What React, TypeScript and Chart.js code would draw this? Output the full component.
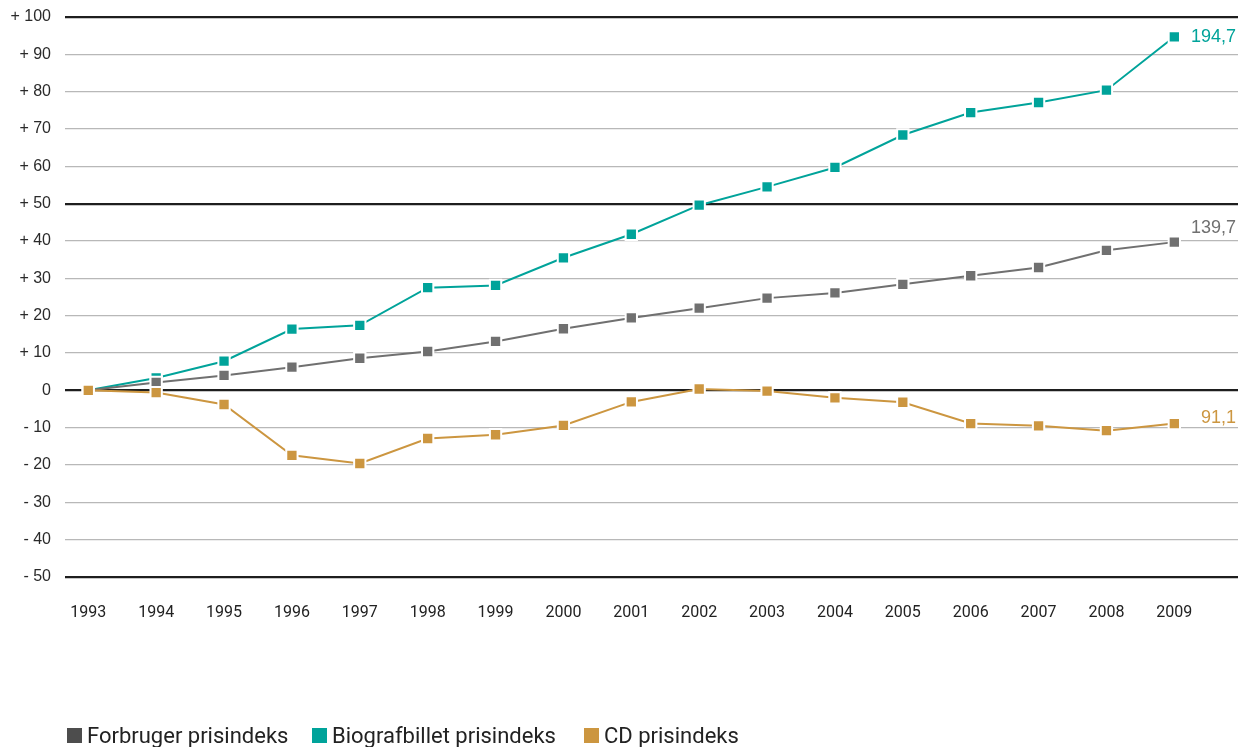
import React, { useEffect, useRef } from "react";
import { Chart, registerables } from "chart.js";

Chart.register(...registerables);

// Years on the x axis
const years = [1993, 1994, 1995, 1996, 1997, 1998, 1999, 2000, 2001, 2002, 2003, 2004, 2005, 2006, 2007, 2008, 2009];

// Change against 1993 (index 1993 = 100, shown as +/- points)
const forbruger = [0, 2.1, 4.0, 6.2, 8.6, 10.4, 13.1, 16.5, 19.4, 22.0, 24.7, 26.1, 28.4, 30.7, 32.9, 37.5, 39.7];
const biograf = [0, 3.3, 7.8, 16.4, 17.4, 27.5, 28.1, 35.5, 41.8, 49.6, 54.5, 59.7, 68.4, 74.4, 77.1, 80.4, 94.7];
const cd = [0, -0.6, -3.8, -17.4, -19.6, -12.9, -11.9, -9.4, -3.1, 0.35, -0.2, -2.0, -3.2, -8.9, -9.5, -10.8, -8.9];

// Index values written next to the last point of each series
const endLabels = ["139,7", "194,7", "91,1"];

const seriesNames = ["Forbruger prisindeks", "Biografbillet prisindeks", "CD prisindeks"];
const seriesColors = ["#707070", "#00a39a", "#cc9640"];
const legendColors = ["#4d4d4d", "#00a39a", "#cc9640"];
const endLabelOffsetY = [-14, 0, -6];

const yTickLabel = (v: number) => (v > 0 ? "+ " + v : v < 0 ? "- " + Math.abs(v) : "0");

const endLabelPlugin = {
  id: "endLabels",
  afterDatasetsDraw(chart: any) {
    const { ctx } = chart;
    ctx.save();
    ctx.font = '18px "Liberation Sans", Arial, sans-serif';
    ctx.textAlign = "right";
    ctx.textBaseline = "middle";
    chart.data.datasets.forEach((ds: any, i: number) => {
      const meta = chart.getDatasetMeta(i);
      const last = meta.data[meta.data.length - 1];
      if (!last) return;
      ctx.fillStyle = seriesColors[i];
      ctx.fillText(endLabels[i], chart.chartArea.right - 2, last.y + endLabelOffsetY[i]);
    });
    ctx.restore();
  },
};

export default function App() {
  const canvasRef = useRef<HTMLCanvasElement | null>(null);

  useEffect(() => {
    if (!canvasRef.current) return;
    const series = [forbruger, biograf, cd];
    const drawOrder = [2, 3, 1];
    const chart = new Chart(canvasRef.current, {
      type: "line",
      data: {
        datasets: series.map((values, i) => ({
          label: seriesNames[i],
          data: values.map((v, j) => ({ x: years[j], y: v })),
          borderColor: seriesColors[i],
          backgroundColor: seriesColors[i],
          borderWidth: 2,
          pointStyle: "rect",
          pointRadius: 8,
          pointHoverRadius: 8,
          pointBackgroundColor: seriesColors[i],
          pointBorderColor: "#ffffff",
          pointBorderWidth: 2,
          tension: 0,
          order: drawOrder[i],
          clip: false as any,
        })),
      },
      plugins: [endLabelPlugin],
      options: {
        animation: false,
        responsive: false,
        events: [],
        layout: { autoPadding: false, padding: { top: 17, right: 0, bottom: 100, left: 0 } },
        plugins: {
          legend: { display: false },
          tooltip: { enabled: false },
        },
        scales: {
          x: {
            type: "linear",
            min: 1992.657,
            max: 2009.938,
            grid: { display: false, drawTicks: false },
            border: { display: false },
            afterBuildTicks: (axis: any) => {
              axis.ticks = years.map((y) => ({ value: y }));
            },
            afterFit: (axis: any) => {
              axis.height = 70;
              axis.paddingLeft = 0;
              axis.paddingRight = 0;
            },
            ticks: {
              autoSkip: false,
              maxRotation: 0,
              padding: 26,
              color: "#222222",
              font: { family: "Roboto, sans-serif", size: 16 },
              callback: (v: any) => String(v),
            },
          },
          y: {
            min: -50,
            max: 100,
            grid: {
              drawTicks: false,
              color: (c: any) => (c.tick && c.tick.value % 50 === 0 ? "#1e1e1e" : "#b8b8b8"),
              lineWidth: (c: any) => (c.tick && c.tick.value % 50 === 0 ? 2.2 : 1.3),
            },
            border: { display: false },
            afterFit: (axis: any) => {
              axis.width = 65;
              axis.paddingTop = 0;
              axis.paddingBottom = 0;
            },
            ticks: {
              stepSize: 10,
              padding: 14,
              color: "#2a2a2a",
              font: { family: '"Liberation Sans", Arial, sans-serif', size: 16 },
              callback: (v: any) => yTickLabel(Number(v)),
            },
          },
        },
      },
    });
    return () => chart.destroy();
  }, []);

  const legendLeft = [67, 312, 584];

  return (
    <div style={{ position: "absolute", left: 0, top: 0, width: 1238, height: 747, background: "#fff" }}>
      <canvas ref={canvasRef} width={1238} height={747} style={{ display: "block" }} />
      {seriesNames.map((name, i) => (
        <div
          key={name}
          style={{
            position: "absolute",
            left: legendLeft[i],
            top: 723,
            height: 24,
            display: "flex",
            alignItems: "center",
            fontFamily: "Roboto, sans-serif",
            fontSize: 22,
            color: "#222",
            whiteSpace: "nowrap",
          }}
        >
          <span style={{ width: 15, height: 15, background: legendColors[i], marginRight: 5, display: "inline-block" }} />
          {name}
        </div>
      ))}
    </div>
  );
}
